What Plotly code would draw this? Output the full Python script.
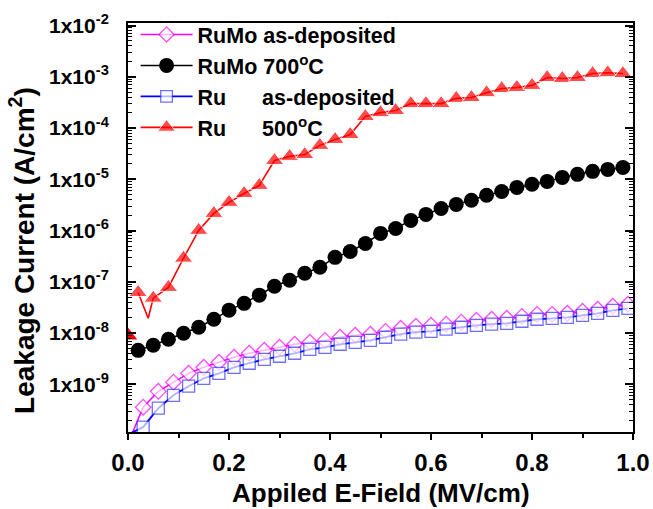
import plotly.graph_objects as go

# ---------------- data ----------------
x_rumo_asdep = [0.00, 0.03, 0.06, 0.09, 0.12, 0.15, 0.18, 0.21, 0.24, 0.27, 0.30, 0.33,
                0.36, 0.39, 0.42, 0.45, 0.48, 0.51, 0.54, 0.57, 0.60, 0.63, 0.66, 0.69,
                0.72, 0.75, 0.78, 0.81, 0.84, 0.87, 0.90, 0.93, 0.96, 0.99]
y_rumo_asdep = [7e-11, 3.58e-10, 7.3e-10, 1.1e-9, 1.64e-9, 2.15e-9, 2.7e-9, 3.37e-9, 4.04e-9,
                4.62e-9, 5.28e-9, 6.05e-9, 6.6e-9, 7.2e-9, 8.3e-9, 9.06e-9, 9.5e-9, 1.08e-8,
                1.24e-8, 1.36e-8, 1.42e-8, 1.49e-8, 1.63e-8, 1.78e-8, 1.86e-8, 1.94e-8,
                2.12e-8, 2.32e-8, 2.32e-8, 2.43e-8, 2.66e-8, 2.91e-8, 3.33e-8, 3.64e-8]

x_rumo_700 = [0.02, 0.05, 0.08, 0.11, 0.14, 0.17, 0.20, 0.23, 0.26, 0.29, 0.32, 0.35, 0.38,
              0.41, 0.44, 0.47, 0.50, 0.53, 0.56, 0.59, 0.62, 0.65, 0.68, 0.71, 0.74, 0.77,
              0.80, 0.83, 0.86, 0.89, 0.92, 0.95, 0.98]
y_rumo_700 = [4.6e-9, 5.8e-9, 7.6e-9, 9.9e-9, 1.3e-8, 1.86e-8, 2.8e-8, 3.8e-8, 5.5e-8, 8.2e-8,
              1.07e-7, 1.47e-7, 1.92e-7, 3.0e-7, 3.9e-7, 5.6e-7, 8.8e-7, 1.1e-6, 1.58e-6,
              2.07e-6, 2.7e-6, 3.24e-6, 3.9e-6, 4.9e-6, 5.8e-6, 6.95e-6, 8.0e-6, 9.1e-6,
              1.09e-5, 1.25e-5, 1.43e-5, 1.56e-5, 1.7e-5]

x_ru_asdep = [0.00, 0.03, 0.06, 0.09, 0.12, 0.15, 0.18, 0.21, 0.24, 0.27, 0.30, 0.33,
              0.36, 0.39, 0.42, 0.45, 0.48, 0.51, 0.54, 0.57, 0.60, 0.63, 0.66, 0.69,
              0.72, 0.75, 0.78, 0.81, 0.84, 0.87, 0.90, 0.93, 0.96, 0.99]
y_ru_asdep = [1.05e-10, 1.46e-10, 3.42e-10, 6.1e-10, 9.2e-10, 1.31e-9, 1.64e-9, 2.15e-9,
              2.58e-9, 3.08e-9, 3.53e-9, 4.04e-9, 4.83e-9, 5.28e-9, 6.05e-9, 6.6e-9, 7.2e-9,
              8.3e-9, 9.5e-9, 1.04e-8, 1.08e-8, 1.19e-8, 1.30e-8, 1.42e-8, 1.49e-8, 1.55e-8,
              1.70e-8, 1.86e-8, 1.94e-8, 2.03e-8, 2.22e-8, 2.43e-8, 2.78e-8, 3.04e-8]

# Ru 500C: the measured line has an extra (unmarked) dip point at 0.04
x_ru_500 = [0.02, 0.04, 0.05, 0.08, 0.11, 0.14, 0.17, 0.20, 0.23, 0.26, 0.29, 0.32, 0.35,
            0.38, 0.41, 0.44, 0.47, 0.50, 0.53, 0.56, 0.59, 0.62, 0.65, 0.68, 0.71, 0.74,
            0.77, 0.80, 0.83, 0.86, 0.89, 0.92, 0.95, 0.98]
y_ru_500 = [6.2e-8, 1.95e-8, 4.8e-8, 7.8e-8, 2.9e-7, 1.01e-6, 2.16e-6, 3.55e-6, 5.3e-6,
            7.6e-6, 2.33e-5, 2.8e-5, 3.05e-5, 4.6e-5, 6.0e-5, 7.5e-5, 1.68e-4, 2.0e-4,
            2.2e-4, 3.0e-4, 3.0e-4, 3.0e-4, 3.8e-4, 3.95e-4, 4.9e-4, 5.9e-4, 6.2e-4,
            6.8e-4, 9.7e-4, 9.3e-4, 9.7e-4, 1.16e-3, 1.2e-3, 1.16e-3]
marked_ru_500 = [True, False] + [True] * 32
x_ru_500_edge = [0.0]
y_ru_500_edge = [9e-9]

x_tick_vals = [0, 0.2, 0.4, 0.6, 0.8, 1.0]
x_tick_text = ["0.0", "0.2", "0.4", "0.6", "0.8", "1.0"]
y_tick_vals = [1e-9, 1e-8, 1e-7, 1e-6, 1e-5, 1e-4, 1e-3, 1e-2]
y_tick_text = ["1x10<sup>-9</sup>", "1x10<sup>-8</sup>", "1x10<sup>-7</sup>",
               "1x10<sup>-6</sup>", "1x10<sup>-5</sup>", "1x10<sup>-4</sup>",
               "1x10<sup>-3</sup>", "1x10<sup>-2</sup>"]

names = ["RuMo as-deposited", "RuMo 700<sup>o</sup>C",
         "Ru\u00a0\u00a0\u00a0\u00a0\u00a0\u00a0as-deposited",
         "Ru\u00a0\u00a0\u00a0\u00a0\u00a0\u00a0500<sup>o</sup>C"]

FONT = "Liberation Sans, Arial, sans-serif"

fig = go.Figure()

fig.add_trace(go.Scatter(
    x=x_rumo_asdep, y=y_rumo_asdep, name=names[0], mode="lines+markers",
    line=dict(color="#FF00FF", width=1.5),
    marker=dict(symbol="diamond", size=[0] + [12] * (len(x_rumo_asdep) - 1),
                color="white", line=dict(color="#FF00FF", width=1.3))))

fig.add_trace(go.Scatter(
    x=x_rumo_700, y=y_rumo_700, name=names[1], mode="lines+markers",
    line=dict(color="black", width=1.5),
    marker=dict(symbol="circle", size=15, color="black")))

fig.add_trace(go.Scatter(
    x=x_ru_asdep, y=y_ru_asdep, name=names[2], mode="lines+markers",
    line=dict(color="#0000FF", width=1.8),
    marker=dict(symbol="square", size=[0] + [12] * (len(x_ru_asdep) - 1),
                color="white", line=dict(color="#3333FF", width=1.3))))

fig.add_trace(go.Scatter(
    x=x_ru_500, y=y_ru_500, name=names[3], mode="lines+markers",
    line=dict(color="#FF0000", width=1.6),
    marker=dict(symbol="triangle-up", size=[16 if m else 0 for m in marked_ru_500],
                color="#FF0000")))

fig.add_trace(go.Scatter(
    x=x_ru_500_edge, y=y_ru_500_edge, mode="markers", showlegend=False,
    marker=dict(symbol="triangle-up", size=16, color="#FF0000")))

fig.update_layout(
    template="none",
    width=653, height=509,
    margin=dict(l=128, r=20, t=23, b=77, autoexpand=False),
    paper_bgcolor="white", plot_bgcolor="white",
    font=dict(family=FONT, color="black"),
    showlegend=True,
    legend=dict(x=0.015, y=1.022, xanchor="left", yanchor="top",
                bgcolor="rgba(0,0,0,0)", borderwidth=0, itemwidth=52,
                font=dict(family=FONT, size=21.5, color="black", weight="bold"),
                tracegroupgap=0),
)

fig.update_xaxes(
    range=[0, 1], tickvals=x_tick_vals, ticktext=x_tick_text,
    ticks="outside", ticklen=6, tickwidth=2, tickcolor="black",
    minor=dict(tickvals=[0.1, 0.3, 0.5, 0.7, 0.9], ticks="outside", ticklen=4,
               tickwidth=1.5, tickcolor="black", showgrid=False),
    showline=True, linewidth=2, linecolor="black", mirror=True,
    showgrid=False, zeroline=False, automargin=False,
    tickfont=dict(family=FONT, size=24, color="black", weight="bold"),
    ticklabelstandoff=2,
)

fig.update_yaxes(
    type="log", range=[-9.93, -1.95],
    tickvals=y_tick_vals, ticktext=y_tick_text,
    ticks="inside", ticklen=8, tickwidth=2, tickcolor="black",
    minor=dict(ticks="inside", ticklen=4, tickwidth=1.2, tickcolor="black", dtick="D1",
               showgrid=False),
    showline=True, linewidth=2, linecolor="black", mirror="ticks",
    showgrid=False, zeroline=False, automargin=False,
    tickfont=dict(family=FONT, size=21, color="black", weight="bold"),
    ticklabelstandoff=13,
)

fig.add_annotation(
    text="Appiled E-Field (MV/cm)", xref="paper", yref="paper",
    x=0.5, y=-0.148, xanchor="center", yanchor="middle", showarrow=False,
    font=dict(family=FONT, size=26, color="black", weight="bold"))

fig.add_annotation(
    text="Leakage Current (A/cm<sup>2</sup>)", xref="paper", yref="paper",
    x=-0.21, y=0.445, xanchor="center", yanchor="middle", textangle=-90,
    showarrow=False,
    font=dict(family=FONT, size=28, color="black", weight="bold"))

fig.write_html("out.html",
               config={"displayModeBar": False},
               post_script="document.body.style.margin='0px';"
                           "document.body.style.padding='0px';")
